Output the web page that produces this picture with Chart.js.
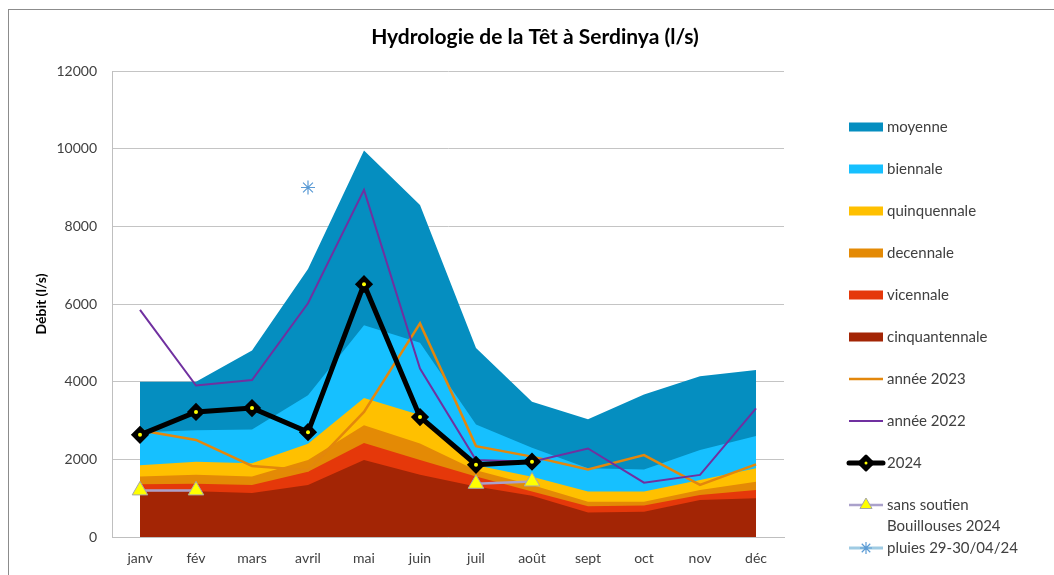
<!DOCTYPE html>
<html lang="fr">
<head>
<meta charset="utf-8">
<title>Hydrologie de la Têt à Serdinya</title>
<script src="https://cdn.jsdelivr.net/npm/chart.js@4.4.1/dist/chart.umd.min.js"></script>
<style>
    html, body { margin: 0; padding: 0; background: #fff; }
    #wrap { width: 1054px; height: 575px; position: relative; }
</style>
</head>
<body>
<div id="wrap"><canvas id="chart" width="1054" height="575"></canvas></div>
<script>
        // Months
        const months = ['janv', 'fév', 'mars', 'avril', 'mai', 'juin', 'juil', 'août', 'sept', 'oct', 'nov', 'déc'];

        // Reference flows (l/s)
        const moyenne        = [4000, 4000, 4800, 6900, 9950, 8550, 4870, 3480, 3030, 3670, 4140, 4300];
        const biennale       = [2700, 2750, 2770, 3650, 5450, 5000, 2900, 2300, 1770, 1740, 2240, 2600];
        const quinquennale   = [1850, 1940, 1900, 2400, 3580, 3140, 1850, 1550, 1170, 1170, 1470, 1770];
        const decennale      = [1560, 1600, 1560, 1980, 2880, 2410, 1720, 1340, 910, 910, 1210, 1420];
        const vicennale      = [1360, 1370, 1340, 1680, 2420, 1980, 1560, 1170, 790, 810, 1080, 1210];
        const cinquantennale = [1170, 1180, 1130, 1340, 1980, 1600, 1300, 1060, 630, 650, 950, 1000];

        // Observed years
        const annee2023 = [2750, 2500, 1830, 1720, 3220, 5500, 2340, 2070, 1740, 2110, 1340, 1870];
        const annee2022 = [5850, 3900, 4040, 6020, 8940, 4340, 1980, 1940, 2280, 1400, 1600, 3310];
        const annee2024 = [2630, 3220, 3320, 2700, 6510, 3090, 1860, 1940, null, null, null, null];
        const sansSoutien = [1200, 1200, null, null, null, null, 1370, 1430, null, null, null, null];
        const pluies = [null, null, null, 9000, null, null, null, null, null, null, null, null];

        const yTicks = { min: 0, max: 12000, step: 2000 };

        const FONT = 'Lato, "Open Sans", sans-serif';
        const TEXT = '#404040';

        function area(label, data, color) {
            return {
                label: label, data: data, kind: 'area',
                backgroundColor: color, borderColor: 'transparent', borderWidth: 1,
                fill: 'origin', pointRadius: 0, tension: 0
            };
        }

        // first dataset is painted last (on top)
        const datasets = [
            { label: 'pluies 29-30/04/24', data: pluies, kind: 'star', showLine: false,
              pointStyle: 'star', pointRadius: 7, borderColor: '#5b9bd5', borderWidth: 1.2,
              backgroundColor: '#5b9bd5', legendLine: '#9fcbe3' },
            { label: 'sans soutien Bouillouses 2024', data: sansSoutien, kind: 'tri',
              borderColor: '#aaa1cb', borderWidth: 2.5, spanGaps: false, tension: 0,
              pointStyle: 'triangle', pointRadius: 9, pointBackgroundColor: '#ffff00',
              pointBorderColor: '#a6a6a6', pointBorderWidth: 1 },
            { label: '', data: annee2024, kind: 'none', showLine: false, pointStyle: 'circle',
              pointRadius: 2, pointBackgroundColor: '#ffff00', pointBorderWidth: 0 },
            { label: '2024', data: annee2024, kind: 'diamond', borderColor: '#000', borderWidth: 5,
              tension: 0, pointStyle: 'rectRot', pointRadius: 7, pointBackgroundColor: '#000',
              pointBorderColor: '#000', pointBorderWidth: 3 },
            { label: 'année 2022', data: annee2022, kind: 'line', borderColor: '#7030a0',
              borderWidth: 2, pointRadius: 0, tension: 0 },
            { label: 'année 2023', data: annee2023, kind: 'line', borderColor: '#e3870c',
              borderWidth: 2.5, pointRadius: 0, tension: 0 },
            area('cinquantennale', cinquantennale, '#a32505'),
            area('vicennale', vicennale, '#e5380a'),
            area('decennale', decennale, '#e48a05'),
            area('quinquennale', quinquennale, '#ffc000'),
            area('biennale', biennale, '#16c0ff'),
            area('moyenne', moyenne, '#058ec0')
        ];

        // Legend order and rows (y centres)
        const legendOrder = ['moyenne', 'biennale', 'quinquennale', 'decennale', 'vicennale',
            'cinquantennale', 'année 2023', 'année 2022', '2024',
            'sans soutien Bouillouses 2024', 'pluies 29-30/04/24'];
        const legendRows = [127, 169, 211, 253, 295, 337, 379, 421, 463, 505, 548];

        const decor = {
            id: 'decor',
            beforeDraw(chart) {
                const ctx = chart.ctx;
                ctx.save();
                ctx.fillStyle = '#fff';
                ctx.fillRect(0, 0, chart.width, chart.height);
                ctx.strokeStyle = '#8c8c8c';
                ctx.lineWidth = 1;
                ctx.strokeRect(8.5, 9.5, chart.width + 10, chart.height + 10);
                ctx.restore();
            },
            afterDraw(chart) {
                const ctx = chart.ctx;
                ctx.save();
                // title
                ctx.fillStyle = '#000';
                ctx.font = 'bold 21px ' + FONT;
                ctx.textAlign = 'center';
                ctx.textBaseline = 'middle';
                ctx.fillText('Hydrologie de la Têt à Serdinya (l/s)', 535, 37);

                // legend
                const x0 = 849, x1 = 883, tx = 887;
                ctx.font = '15px ' + FONT;
                ctx.textAlign = 'left';
                legendOrder.forEach((name, i) => {
                    const ds = chart.data.datasets.find(d => d.label === name);
                    const y = legendRows[i];
                    const xm = (x0 + x1) / 2;
                    if (ds.kind === 'area') {
                        ctx.fillStyle = ds.backgroundColor;
                        ctx.fillRect(x0, y - 4.5, x1 - x0, 9);
                    } else {
                        ctx.strokeStyle = ds.legendLine || ds.borderColor;
                        ctx.lineWidth = ds.kind === 'star' ? 3 : ds.borderWidth;
                        ctx.lineCap = ds.kind === 'diamond' ? 'round' : 'butt';
                        ctx.beginPath();
                        ctx.moveTo(x0, y);
                        ctx.lineTo(x1, y);
                        ctx.stroke();
                        if (ds.kind === 'diamond') {
                            ctx.fillStyle = '#000';
                            ctx.strokeStyle = '#000';
                            ctx.lineWidth = 3;
                            ctx.lineJoin = 'round';
                            ctx.beginPath();
                            ctx.moveTo(xm, y - 7); ctx.lineTo(xm + 7, y); ctx.lineTo(xm, y + 7); ctx.lineTo(xm - 7, y);
                            ctx.closePath(); ctx.fill(); ctx.stroke();
                            ctx.fillStyle = '#ffff00';
                            ctx.beginPath(); ctx.arc(xm, y, 1.5, 0, Math.PI * 2); ctx.fill();
                        } else if (ds.kind === 'tri') {
                            ctx.fillStyle = '#ffff00';
                            ctx.strokeStyle = '#a6a6a6';
                            ctx.lineWidth = 1;
                            Chart.helpers.drawPoint(ctx, { pointStyle: 'triangle', radius: 7, borderWidth: 1 }, xm, y);
                        } else if (ds.kind === 'star') {
                            ctx.strokeStyle = ds.borderColor;
                            ctx.lineWidth = 1.2;
                            Chart.helpers.drawPoint(ctx, { pointStyle: 'star', radius: 6, borderWidth: 1.2 }, xm, y);
                        }
                    }
                    ctx.fillStyle = TEXT;
                    ctx.textBaseline = 'middle';
                    if (name === 'sans soutien Bouillouses 2024') {
                        ctx.fillText('sans soutien', tx, y);
                        ctx.fillText('Bouillouses 2024', tx, y + 21);
                    } else {
                        ctx.fillText(name, tx, y);
                    }
                });
                ctx.restore();
            }
        };

        new Chart(document.getElementById('chart'), {
            type: 'line',
            data: { labels: months, datasets: datasets },
            options: {
                responsive: false,
                devicePixelRatio: 1,
                animation: false,
                events: [],
                layout: { padding: { left: 0, right: 270, top: 71, bottom: 0 } },
                plugins: { legend: { display: false }, title: { display: false }, tooltip: { enabled: false } },
                scales: {
                    x: {
                        type: 'category',
                        offset: true,
                        grid: { display: false, drawTicks: false },
                        border: { display: true, color: '#bfbfbf', width: 1 },
                        ticks: { color: TEXT, font: { family: FONT, size: 14 }, padding: 13,
                                 maxRotation: 0, autoSkip: false },
                        afterFit(scale) { scale.height = 38; }
                    },
                    y: {
                        min: yTicks.min,
                        max: yTicks.max,
                        grid: { color: '#c4c4c4', drawTicks: false },
                        border: { display: true, color: '#bfbfbf', width: 1 },
                        ticks: { stepSize: yTicks.step, color: TEXT, padding: 15,
                                 font: { family: FONT, size: 14 },
                                 callback: v => String(v) },
                        title: { display: true, text: 'Débit (l/s)', color: '#000',
                                 font: { family: FONT, size: 14, weight: 'bold' },
                                 padding: { top: 33, bottom: 0 } },
                        afterFit(scale) { scale.width = 112; }
                    }
                }
            },
            plugins: [decor]
        });
</script>
</body>
</html>
